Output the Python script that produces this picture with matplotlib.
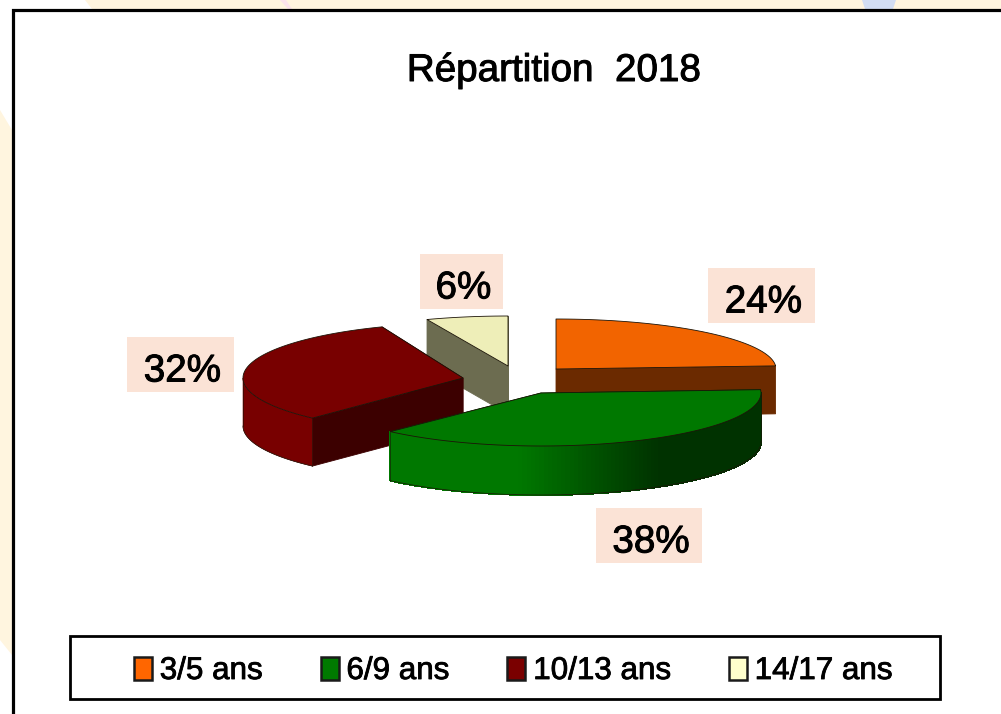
import numpy as np
import matplotlib
matplotlib.use("Agg")
import matplotlib.pyplot as plt
import matplotlib.patheffects as pe
from matplotlib.patches import Rectangle, Patch
from matplotlib.colors import to_rgb

title = "Répartition  2018"
categories = ["3/5 ans", "6/9 ans", "10/13 ans", "14/17 ans"]
shares = [24, 38, 32, 6]

# styling and layout, all in pixels of the 1001x714 canvas
top_colors = ["#F26400", "#007800", "#780000", "#EEEEB8"]
cut_colors = ["#6B2A00", "#003A00", "#3C0000", "#6C6C50"]
legend_colors = ["#FF6600", "#007A00", "#7A0000", "#FFFFCC"]
apexes = [(556, 369), (541, 393), (463, 378), (508, 366)]
radii_y = [50, 53, 55, 50]
radii_x = [220, 220, 220, 220]
depths = [48, 49, 48, 48]
label_boxes = [(708, 268, 107, 55), (596, 508, 106, 55), (127, 337, 107, 55), (420, 254, 83, 55)]
draw_order = [3, 0, 2, 1]

W, H = 1001, 714
fig = plt.figure(figsize=(W / 100, H / 100), dpi=100)
ax = fig.add_axes([0, 0, 1, 1])
ax.set_xlim(0, W)
ax.set_ylim(H, 0)
ax.axis("off")
plt.rcParams["font.family"] = ["Liberation Sans", "DejaVu Sans"]
heavy = [pe.withStroke(linewidth=0.7, foreground="black")]

# faint page background showing round the frame
CREAM, BLUE, PINK = "#FFF5DF", "#D2DDF3", "#FBE3EC"
ax.fill([85, W, W, 92], [0, 0, 9, 9], color=CREAM, lw=0, zorder=0)
ax.fill([862, 896, 893, 865], [0, 0, 9, 9], color=BLUE, lw=0, zorder=0.5)
ax.fill([280, 286, 292, 288], [0, 0, 9, 9], color=PINK, lw=0, zorder=0.5)
ax.fill([0, 12, 12, 0], [110, 130, 655, 640], color=CREAM, lw=0, zorder=0)

# chart frame, running off the right and bottom of the picture
ax.plot([13, 13, W + 5], [H + 5, 10, 10], color="black", lw=2.3, zorder=1, solid_joinstyle="miter")

# angular extent of each slice, clockwise from 12 o'clock
edges = np.concatenate([[0], np.cumsum(shares)]) / np.sum(shares) * 2 * np.pi


def green_wall(x):
    f = np.clip((x - 520) / 140, 0, 1)
    a, b = np.array(to_rgb("#007800")), np.array(to_rgb("#003200"))
    return tuple(a + (b - a) * f)


EDGE = "#1c1408"
z = 2.0
for i in draw_order:
    cx, cy = apexes[i]
    rx, ry, d = radii_x[i], radii_y[i], depths[i]
    rim = lambda t: (cx + rx * np.sin(t), cy - ry * np.cos(t))
    t0, t1 = edges[i], edges[i + 1]
    xs, ys = rim(np.linspace(t0, t1, 240))
    # flat cut faces
    for t in (t0, t1):
        px, py = rim(t)
        ax.fill([cx, px, px, cx], [cy, py, py + d, cy + d],
                facecolor=cut_colors[i], edgecolor=cut_colors[i], lw=0.6, zorder=z)
    # outer curved wall, only the part that faces the viewer
    lo, hi = max(t0, np.pi / 2), min(t1, 3 * np.pi / 2)
    if hi > lo:
        wx, wy = rim(np.linspace(lo, hi, 120))
        if i == 1:
            for k in range(len(wx) - 1):
                c = green_wall(wx[k])
                ax.fill([wx[k], wx[k + 1], wx[k + 1], wx[k]],
                        [wy[k], wy[k + 1], wy[k + 1] + d, wy[k] + d],
                        facecolor=c, edgecolor=c, lw=0.8, antialiased=False, zorder=z + 0.1)
        else:
            c = top_colors[i] if i == 2 else cut_colors[i]
            ax.fill(np.r_[wx, wx[::-1]], np.r_[wy, wy[::-1] + d],
                    facecolor=c, edgecolor=c, lw=0.4, zorder=z + 0.1)
        ax.plot(wx, wy + d, color=EDGE, lw=0.5, zorder=z + 0.2)
        ax.plot([wx[0], wx[0]], [wy[0], wy[0] + d], color=EDGE, lw=0.4, zorder=z + 0.2)
        ax.plot([wx[-1], wx[-1]], [wy[-1], wy[-1] + d], color=EDGE, lw=0.4, zorder=z + 0.2)
    # top face
    ax.fill(np.r_[cx, xs], np.r_[cy, ys], facecolor=top_colors[i],
            edgecolor=EDGE, lw=0.6, zorder=z + 0.3, joinstyle="round")
    z += 1

# percentage labels on pale boxes
for (bx, by, bw, bh), v in zip(label_boxes, shares):
    ax.add_patch(Rectangle((bx, by), bw, bh, facecolor="#FBE3D6", edgecolor="none", zorder=10))
    ax.text(bx + bw / 2 + 2, by + bh / 2 + 7, f"{v}%", fontsize=27.8, color="black",
            ha="center", va="center", zorder=11, path_effects=heavy)

ax.text(554, 71, title, fontsize=27.8, color="black", ha="center", va="center",
        zorder=11, path_effects=heavy)

# legend
ax.add_patch(Rectangle((70, 636), 870, 63, facecolor="white", edgecolor="black", lw=2.0, zorder=9))
handles = [Patch(facecolor=c, edgecolor="#1a1a1a", lw=1.8) for c in legend_colors]
leg = ax.legend(handles, categories, loc="center left", bbox_to_anchor=(134, 671),
                bbox_transform=ax.transData, ncol=4, frameon=False, fontsize=22.6,
                borderpad=0, borderaxespad=0, handlelength=0.57, handleheight=0.75,
                handletextpad=0.25, columnspacing=1.85, labelcolor="black")
for txt in leg.get_texts():
    txt.set_path_effects([pe.withStroke(linewidth=0.6, foreground="black")])
leg.set_zorder(12)

fig.savefig("out.png", dpi=100, facecolor="white")
